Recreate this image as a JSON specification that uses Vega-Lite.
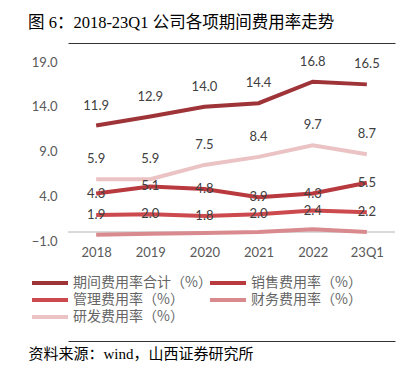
{
  "$schema": "https://vega.github.io/schema/vega-lite/v6.json",
  "width": 327,
  "height": 179,
  "autosize": {"type": "none"},
  "padding": {"top": 62, "left": 68, "right": 19, "bottom": 125},
  "background": "white",
  "title": {
    "text": "图 6：2018-23Q1 公司各项期间费用率走势",
    "font": "Liberation Serif, Noto Sans CJK SC",
    "fontSize": 16.5,
    "fontWeight": "normal",
    "color": "#000000",
    "anchor": "start",
    "frame": "group",
    "dx": -40,
    "offset": 12
  },
  "config": {
    "view": {"stroke": null}
  },
  "data": {
    "values": [
      {"period": "2018", "series": "期间费用率合计（%）", "value": 11.9},
      {"period": "2019", "series": "期间费用率合计（%）", "value": 12.9},
      {"period": "2020", "series": "期间费用率合计（%）", "value": 14.0},
      {"period": "2021", "series": "期间费用率合计（%）", "value": 14.4},
      {"period": "2022", "series": "期间费用率合计（%）", "value": 16.8},
      {"period": "23Q1", "series": "期间费用率合计（%）", "value": 16.5},
      {"period": "2018", "series": "销售费用率（%）", "value": 4.3},
      {"period": "2019", "series": "销售费用率（%）", "value": 5.1},
      {"period": "2020", "series": "销售费用率（%）", "value": 4.8},
      {"period": "2021", "series": "销售费用率（%）", "value": 3.9},
      {"period": "2022", "series": "销售费用率（%）", "value": 4.3},
      {"period": "23Q1", "series": "销售费用率（%）", "value": 5.5},
      {"period": "2018", "series": "管理费用率（%）", "value": 1.9},
      {"period": "2019", "series": "管理费用率（%）", "value": 2.0},
      {"period": "2020", "series": "管理费用率（%）", "value": 1.8},
      {"period": "2021", "series": "管理费用率（%）", "value": 2.0},
      {"period": "2022", "series": "管理费用率（%）", "value": 2.4},
      {"period": "23Q1", "series": "管理费用率（%）", "value": 2.2},
      {"period": "2018", "series": "财务费用率（%）", "value": -0.3},
      {"period": "2019", "series": "财务费用率（%）", "value": -0.2},
      {"period": "2020", "series": "财务费用率（%）", "value": -0.1},
      {"period": "2021", "series": "财务费用率（%）", "value": 0.0},
      {"period": "2022", "series": "财务费用率（%）", "value": 0.3},
      {"period": "23Q1", "series": "财务费用率（%）", "value": 0.0},
      {"period": "2018", "series": "研发费用率（%）", "value": 5.9},
      {"period": "2019", "series": "研发费用率（%）", "value": 5.9},
      {"period": "2020", "series": "研发费用率（%）", "value": 7.5},
      {"period": "2021", "series": "研发费用率（%）", "value": 8.4},
      {"period": "2022", "series": "研发费用率（%）", "value": 9.7},
      {"period": "23Q1", "series": "研发费用率（%）", "value": 8.7}
    ]
  },
  "layer": [
    {
      "mark": {"type": "rule", "color": "#d9d9d9", "strokeWidth": 1},
      "encoding": {"y": {"datum": 0, "type": "quantitative"}}
    },
    {
      "mark": {"type": "line", "strokeWidth": 4, "strokeCap": "butt"},
      "encoding": {
        "x": {
          "field": "period", "type": "ordinal",
          "scale": {"type": "point", "padding": 0.52},
          "sort": null,
          "axis": {
            "orient": "bottom",
            "offset": 100,
            "domain": true,
            "domainColor": "#333333",
            "domainWidth": 1,
            "ticks": false,
            "tickSize": 0,
            "labelPadding": -89,
            "labelBaseline": "middle",
            "labelAngle": 0,
            "labelFont": "Lato",
            "labelFontSize": 13,
            "labelColor": "#595959",
            "title": "资料来源：wind，山西证券研究所",
            "titleX": -40,
            "titleY": 12,
            "titleAlign": "left",
            "titleBaseline": "middle",
            "titleFont": "Liberation Serif, Noto Sans CJK SC",
            "titleFontSize": 15,
            "titleFontWeight": "normal",
            "titleColor": "#000000"
          }
        },
        "y": {
          "field": "value", "type": "quantitative",
          "scale": {"domain": [-1, 19], "nice": false, "zero": false},
          "axis": {
            "values": [-1, 4, 9, 14, 19],
            "format": ".1f",
            "grid": false,
            "domain": false,
            "ticks": false,
            "labelPadding": 11,
            "labelFont": "Lato",
            "labelFontSize": 13,
            "labelColor": "#595959",
            "title": null
          }
        },
        "color": {
          "field": "series", "type": "nominal",
          "scale": {
            "domain": ["期间费用率合计（%）", "销售费用率（%）", "管理费用率（%）", "财务费用率（%）", "研发费用率（%）"],
            "range": ["#9e3438", "#b8393e", "#cc4a4e", "#d98a8e", "#ebc3c4"]
          },
          "legend": {
            "title": null,
            "orient": "none",
            "legendX": -26,
            "legendY": 213,
            "direction": "horizontal",
            "columns": 2,
            "columnPadding": -10,
            "rowPadding": 1,
            "symbolType": "M-3,0H3",
            "symbolSize": 144,
            "symbolStrokeWidth": 4,
            "labelOffset": 15,
            "labelFont": "Noto Sans CJK SC",
            "labelFontSize": 14,
            "labelColor": "#666666"
          }
        }
      }
    },
    {
      "transform": [{"filter": "datum.series === '期间费用率合计（%）' || datum.series === '研发费用率（%）'"}],
      "mark": {"type": "text", "dy": -20, "font": "Lato", "fontSize": 13, "color": "#404040"},
      "encoding": {
        "x": {
          "field": "period", "type": "ordinal", "sort": null,
          "axis": {"orient": "top", "offset": 19, "labels": false, "ticks": false, "domain": true, "domainColor": "#333333", "domainWidth": 1, "title": null}
        },
        "y": {"field": "value", "type": "quantitative"},
        "text": {"field": "value", "type": "quantitative", "format": ".1f"}
      }
    },
    {
      "transform": [{"filter": "datum.series === '销售费用率（%）' || datum.series === '管理费用率（%）'"}],
      "mark": {"type": "text", "dy": 0, "font": "Lato", "fontSize": 13, "color": "#404040"},
      "encoding": {
        "x": {"field": "period", "type": "ordinal", "sort": null, "axis": null},
        "y": {"field": "value", "type": "quantitative"},
        "text": {"field": "value", "type": "quantitative", "format": ".1f"}
      }
    }
  ],
  "resolve": {"axis": {"x": "independent"}}
}
